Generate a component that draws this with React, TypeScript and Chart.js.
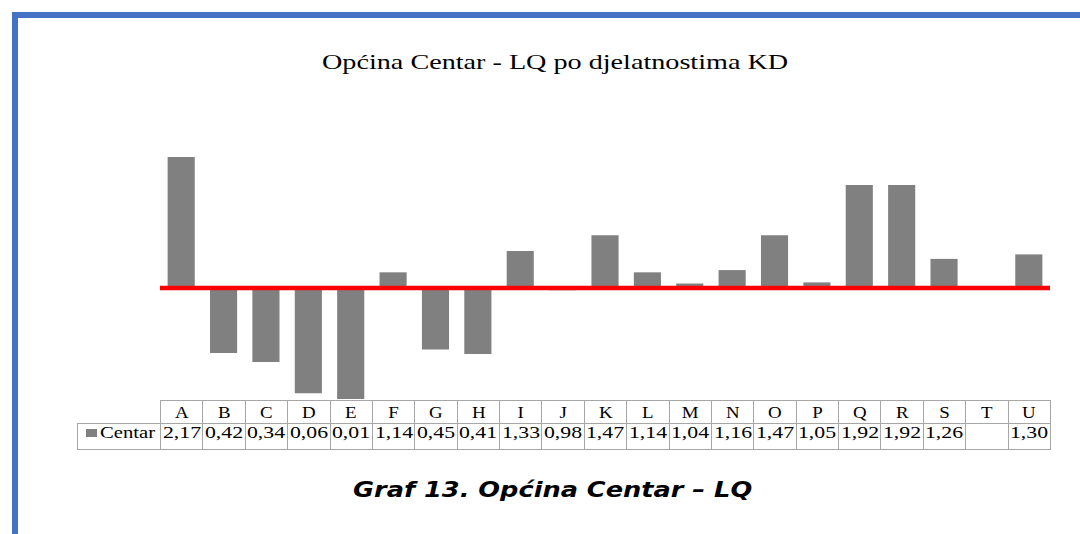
import React, { useEffect, useRef } from "react";
import { Chart, registerables } from "chart.js";

Chart.register(...registerables);

const categories: string[] = ["A", "B", "C", "D", "E", "F", "G", "H", "I", "J", "K", "L", "M", "N", "O", "P", "Q", "R", "S", "T", "U"];
const values: (number | null)[] = [2.17, 0.42, 0.34, 0.06, 0.01, 1.14, 0.45, 0.41, 1.33, 0.98, 1.47, 1.14, 1.04, 1.16, 1.47, 1.05, 1.92, 1.92, 1.26, null, 1.3];
const baseline = 1;
const seriesName = "Centar";
const chartTitle = "Općina Centar - LQ po djelatnostima KD";
const caption = "Graf 13. Općina Centar – LQ";
const yMin = 0;
const yMax = 2.5;

const BAR_COLOR = "#808080";
const GRID = "#a6a6a6";

const fmt = (v: number | null) => (v == null ? "" : v.toFixed(2).replace(".", ","));

const baselinePlugin = {
  id: "baselineLine",
  afterDatasetsDraw(chart: any) {
    const { ctx, chartArea, scales } = chart;
    const y = scales.y.getPixelForValue(baseline);
    ctx.save();
    ctx.strokeStyle = "#ff0000";
    ctx.lineWidth = 4.6;
    ctx.beginPath();
    ctx.moveTo(chartArea.left, y);
    ctx.lineTo(chartArea.right, y);
    ctx.stroke();
    ctx.restore();
  },
};

const Stretch = ({ children, sx, origin = "center" }: { children: React.ReactNode; sx: number; origin?: string }) => (
  <span style={{ display: "inline-block", transform: `scaleX(${sx})`, transformOrigin: origin }}>{children}</span>
);

export default function App() {
  const ref = useRef<HTMLCanvasElement | null>(null);
  useEffect(() => {
    if (!ref.current) return;
    const chart = new Chart(ref.current, {
      type: "bar",
      data: {
        labels: categories,
        datasets: [
          {
            label: seriesName,
            data: values.map((v) => (v == null ? null : [baseline, v])) as any,
            backgroundColor: BAR_COLOR,
            borderWidth: 0,
            barPercentage: 0.64,
            categoryPercentage: 1,
          },
        ],
      },
      options: {
        responsive: false,
        animation: false,
        layout: { padding: 0 },
        plugins: { legend: { display: false }, tooltip: { enabled: false }, title: { display: false } },
        scales: {
          x: { display: false },
          y: { display: false, min: yMin, max: yMax },
        },
      },
      plugins: [baselinePlugin],
    });
    return () => chart.destroy();
  }, []);

  const colW = 890 / categories.length;
  const cellBase: React.CSSProperties = {
    border: `1px solid ${GRID}`,
    padding: 0,
    textAlign: "center",
    verticalAlign: "top",
    fontFamily: "'Liberation Serif', serif",
    fontSize: 16,
    lineHeight: "18px",
    whiteSpace: "nowrap",
    color: "#000",
  };

  return (
    <div style={{ position: "absolute", left: 0, top: 0, width: 1080, height: 534, overflow: "hidden", background: "#fff" }}>
      <div style={{ position: "absolute", left: 12, top: 12, right: 0, bottom: 0, borderTop: "6px solid #4472c4", borderLeft: "6px solid #4472c4" }} />
      <div
        style={{
          position: "absolute",
          left: 0,
          width: 1110,
          top: 51,
          textAlign: "center",
          fontFamily: "'Liberation Serif', serif",
          fontSize: 22,
          lineHeight: "22px",
          color: "#000",
          whiteSpace: "nowrap",
        }}
      >
        <Stretch sx={1.28}>{chartTitle}</Stretch>
      </div>
      <canvas ref={ref} width={890} height={280} style={{ position: "absolute", left: 160, top: 120, width: 890, height: 280 }} />
      <table
        style={{
          position: "absolute",
          left: 76.5,
          top: 400,
          borderCollapse: "collapse",
          tableLayout: "fixed",
          width: 83.5 + 890,
        }}
      >
        <colgroup>
          <col style={{ width: 83.5 }} />
          {categories.map((c) => (
            <col key={c} style={{ width: colW }} />
          ))}
        </colgroup>
        <tbody>
          <tr style={{ height: 22.5 }}>
            <td style={{ ...cellBase, border: "none", borderBottom: `1px solid ${GRID}` }} />
            {categories.map((c) => (
              <td key={c} style={{ ...cellBase, paddingTop: 3 }}>
                <Stretch sx={1.18}>{c}</Stretch>
              </td>
            ))}
          </tr>
          <tr style={{ height: 26.5 }}>
            <td style={{ ...cellBase, textAlign: "left", paddingLeft: 8, paddingTop: 0 }}>
              <span style={{ display: "inline-block", width: 11, height: 8, background: BAR_COLOR, marginRight: 3, verticalAlign: "1px" }} />
              <Stretch sx={1.29} origin="left">{seriesName}</Stretch>
            </td>
            {values.map((v, i) => (
              <td key={categories[i]} style={{ ...cellBase, paddingTop: 0 }}>
                <Stretch sx={1.36}>{fmt(v)}</Stretch>
              </td>
            ))}
          </tr>
        </tbody>
      </table>
      <div
        style={{
          position: "absolute",
          left: 0,
          width: 1106,
          top: 480,
          textAlign: "center",
          fontFamily: "'DejaVu Sans', sans-serif",
          fontWeight: "bold",
          fontStyle: "italic",
          fontSize: 21,
          lineHeight: "21px",
          color: "#000",
          whiteSpace: "nowrap",
        }}
      >
        <Stretch sx={1.22}>{caption}</Stretch>
      </div>
    </div>
  );
}
